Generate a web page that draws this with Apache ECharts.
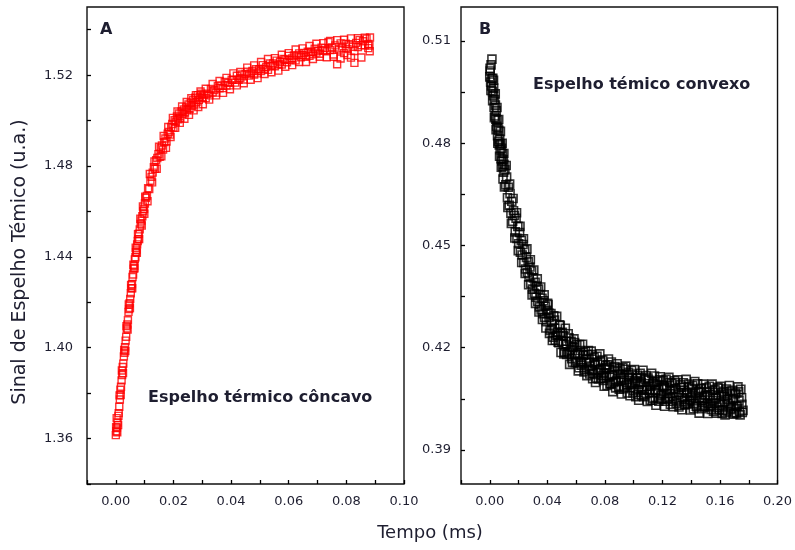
<!DOCTYPE html>
<html>
<head>
<meta charset="utf-8">
<script src="https://cdn.jsdelivr.net/npm/echarts@6/dist/echarts.min.js"></script>
<style>
  html, body { margin: 0; padding: 0; background: #ffffff; }
  #chart { width: 795px; height: 550px; }
</style>
</head>
<body>
<div id="chart"></div>
<script>
// Thermal mirror signal vs time — concave mirror (panel A), [time ms, signal a.u.]
const concavePoints = [
  [0.0000,1.3615],[0.0002,1.3632],[0.0004,1.3648],[0.0006,1.3671],[0.0008,1.3660],[0.0010,1.3712],
  [0.0012,1.3740],[0.0014,1.3772],[0.0016,1.3815],[0.0018,1.3828],[0.0020,1.3856],[0.0022,1.3880],
  [0.0024,1.3915],[0.0026,1.3930],[0.0028,1.3962],[0.0030,1.3978],[0.0032,1.4002],[0.0034,1.4031],
  [0.0036,1.4048],[0.0038,1.4085],[0.0040,1.4102],[0.0042,1.4121],[0.0044,1.4158],[0.0046,1.4170],
  [0.0048,1.4196],[0.0050,1.4215],[0.0052,1.4240],[0.0054,1.4262],[0.0056,1.4280],[0.0058,1.4311],
  [0.0060,1.4322],[0.0062,1.4348],[0.0064,1.4361],[0.0066,1.4389],[0.0068,1.4398],[0.0070,1.4420],
  [0.0072,1.4432],[0.0074,1.4455],[0.0076,1.4470],[0.0078,1.4478],[0.0080,1.4502],[0.0083,1.4521],
  [0.0086,1.4545],[0.0089,1.4560],[0.0092,1.4579],[0.0095,1.4601],[0.0098,1.4612],[0.0101,1.4635],
  [0.0104,1.4660],[0.0108,1.4668],[0.0112,1.4702],[0.0116,1.4698],[0.0120,1.4735],[0.0124,1.4752],
  [0.0128,1.4771],[0.0132,1.4795],[0.0136,1.4788],[0.0140,1.4826],[0.0144,1.4835],[0.0148,1.4852],
  [0.0152,1.4841],[0.0156,1.4878],[0.0160,1.4890],[0.0164,1.4872],[0.0168,1.4905],[0.0172,1.4921],
  [0.0176,1.4908],[0.0180,1.4942],[0.0184,1.4950],[0.0188,1.4938],[0.0192,1.4972],[0.0196,1.4985],
  [0.0200,1.4969],[0.0204,1.5002],[0.0208,1.4995],[0.0212,1.5018],[0.0216,1.5006],[0.0220,1.5031],
  [0.0224,1.5012],[0.0228,1.5040],[0.0232,1.5028],[0.0236,1.5049],[0.0240,1.5035],[0.0244,1.5058],
  [0.0248,1.5046],[0.0252,1.5071],[0.0256,1.5052],[0.0260,1.5078],[0.0264,1.5065],[0.0268,1.5090],
  [0.0272,1.5070],[0.0276,1.5101],[0.0280,1.5082],[0.0284,1.5112],[0.0288,1.5091],[0.0292,1.5105],
  [0.0296,1.5118],[0.0300,1.5099],
  [0.0306,1.5113],[0.0312,1.5098],[0.0318,1.5118],[0.0324,1.5111],[0.0330,1.5139],[0.0336,1.5124],
  [0.0342,1.5134],[0.0348,1.5123],[0.0354,1.5152],[0.0360,1.5142],[0.0366,1.5155],[0.0372,1.5143],
  [0.0378,1.5170],[0.0384,1.5154],[0.0390,1.5166],[0.0396,1.5155],[0.0402,1.5180],[0.0408,1.5179],
  [0.0414,1.5167],[0.0420,1.5197],[0.0426,1.5180],[0.0432,1.5187],[0.0438,1.5203],[0.0444,1.5181],
  [0.0450,1.5205],[0.0456,1.5215],[0.0462,1.5198],[0.0468,1.5208],[0.0474,1.5219],[0.0480,1.5203],
  [0.0486,1.5226],[0.0492,1.5208],[0.0498,1.5226],[0.0504,1.5218],[0.0510,1.5244],[0.0516,1.5227],
  [0.0522,1.5236],[0.0528,1.5223],[0.0534,1.5251],[0.0540,1.5240],[0.0546,1.5252],[0.0552,1.5239],
  [0.0558,1.5264],[0.0564,1.5247],[0.0570,1.5259],[0.0576,1.5247],[0.0582,1.5271],[0.0588,1.5269],
  [0.0594,1.5257],[0.0600,1.5285],[0.0606,1.5266],[0.0612,1.5273],[0.0618,1.5287],[0.0624,1.5265],
  [0.0630,1.5287],[0.0636,1.5296],[0.0642,1.5279],[0.0648,1.5288],[0.0654,1.5298],[0.0660,1.5281],
  [0.0666,1.5303],[0.0672,1.5285],[0.0678,1.5302],[0.0684,1.5292],[0.0690,1.5316],[0.0696,1.5299],
  [0.0702,1.5307],[0.0708,1.5294],[0.0714,1.5321],[0.0720,1.5308],[0.0726,1.5319],[0.0732,1.5305],
  [0.0738,1.5346],[0.0744,1.5311],[0.0750,1.5322],[0.0756,1.5281],[0.0762,1.5331],[0.0768,1.5248],
  [0.0774,1.5313],[0.0780,1.5340],[0.0786,1.5320],[0.0792,1.5297],[0.0798,1.5338],[0.0804,1.5315],
  [0.0810,1.5336],[0.0816,1.5277],[0.0822,1.5325],[0.0828,1.5254],[0.0834,1.5342],[0.0840,1.5324],
  [0.0846,1.5355],[0.0852,1.5332],[0.0858,1.5349],[0.0864,1.5331],[0.0870,1.5361],[0.0876,1.5337],
  [0.0880,1.5330],[0.0881,1.5305],[0.0882,1.5366]
];

// Samples taken between the ones above (same acquisition, concave mirror)
const concaveInterleaved = [
  [0.0001,1.3650],[0.0003,1.3690],[0.0005,1.3628],[0.0009,1.3700],[0.0013,1.3790],[0.0017,1.3792],
  [0.0021,1.3900],[0.0025,1.3888],[0.0029,1.3990],[0.0033,1.3985],[0.0037,1.4095],[0.0041,1.4080],
  [0.0045,1.4190],[0.0049,1.4175],[0.0053,1.4275],[0.0057,1.4262],[0.0061,1.4365],[0.0065,1.4350],
  [0.0069,1.4440],[0.0073,1.4418],[0.0077,1.4500],[0.0081,1.4478],[0.0085,1.4568],[0.0090,1.4538],
  [0.0094,1.4622],[0.0099,1.4590],
  [0.0102,1.4665],[0.0110,1.4645],[0.0118,1.4765],[0.0126,1.4728],[0.0134,1.4820],[0.0142,1.4788],
  [0.0150,1.4885],[0.0158,1.4843],[0.0166,1.4932],[0.0174,1.4880],[0.0182,1.4972],[0.0190,1.4928],
  [0.0198,1.5012],[0.0206,1.4968],[0.0214,1.5040],[0.0222,1.4990],[0.0230,1.5062],[0.0238,1.5008],
  [0.0246,1.5082],[0.0254,1.5025],[0.0262,1.5098],[0.0270,1.5045],[0.0278,1.5112],[0.0286,1.5060],
  [0.0294,1.5128],[0.0302,1.5072],
  [0.0312,1.5140],[0.0324,1.5092],[0.0336,1.5161],[0.0348,1.5111],[0.0360,1.5174],[0.0372,1.5122],
  [0.0384,1.5188],[0.0396,1.5138],[0.0408,1.5208],[0.0420,1.5155],[0.0432,1.5214],[0.0444,1.5164],
  [0.0456,1.5233],[0.0468,1.5180],[0.0480,1.5243],[0.0492,1.5187],[0.0504,1.5258],[0.0516,1.5205],
  [0.0528,1.5271],[0.0540,1.5213],[0.0552,1.5275],[0.0564,1.5220],[0.0576,1.5290],[0.0588,1.5237],
  [0.0600,1.5297],[0.0612,1.5244],[0.0624,1.5313],[0.0636,1.5258],[0.0648,1.5318],[0.0660,1.5258],
  [0.0672,1.5328],[0.0684,1.5271],[0.0696,1.5338],[0.0708,1.5281],[0.0720,1.5341],[0.0732,1.5279],
  [0.0744,1.5351],[0.0756,1.5291],[0.0768,1.5354],[0.0780,1.5273],[0.0792,1.5356],[0.0804,1.5289],
  [0.0816,1.5362],[0.0828,1.5306],[0.0840,1.5363],[0.0852,1.5278],[0.0864,1.5365],[0.0876,1.5319]
];

// Thermal mirror signal vs time — convex mirror (panel B), [time ms, signal a.u.]
const convexPoints = [
  [0.0000,0.4995],[0.0003,0.5012],[0.0006,0.4980],[0.0009,0.5030],[0.0012,0.4968],[0.0015,0.5047],
  [0.0018,0.4952],[0.0021,0.4991],[0.0024,0.4940],[0.0027,0.4962],[0.0030,0.4905],[0.0033,0.4928],
  [0.0036,0.4880],[0.0039,0.4912],[0.0042,0.4871],[0.0045,0.4895],[0.0048,0.4850],[0.0051,0.4868],
  [0.0054,0.4822],[0.0057,0.4845],[0.0060,0.4806],[0.0063,0.4838],[0.0066,0.4795],[0.0069,0.4812],
  [0.0072,0.4781],[0.0075,0.4798],[0.0078,0.4755],[0.0081,0.4785],[0.0084,0.4748],[0.0087,0.4770],
  [0.0090,0.4732],[0.0093,0.4752],[0.0096,0.4715],[0.0099,0.4738],
  [0.0105,0.4722],[0.0111,0.4678],[0.0117,0.4701],[0.0123,0.4640],[0.0129,0.4671],[0.0135,0.4618],
  [0.0141,0.4652],[0.0147,0.4595],[0.0153,0.4630],[0.0159,0.4571],[0.0165,0.4602],[0.0171,0.4588],
  [0.0177,0.4540],[0.0183,0.4580],[0.0189,0.4521],[0.0195,0.4556],[0.0201,0.4505],[0.0207,0.4538],
  [0.0213,0.4480],[0.0219,0.4515],[0.0225,0.4472],[0.0231,0.4503],[0.0237,0.4450],[0.0243,0.4488],
  [0.0249,0.4431],[0.0255,0.4465],[0.0261,0.4420],[0.0267,0.4452],[0.0273,0.4408],[0.0279,0.4437],
  [0.0285,0.4389],[0.0291,0.4425],[0.0297,0.4372],[0.0303,0.4405],[0.0309,0.4360],[0.0315,0.4392],
  [0.0321,0.4348],[0.0327,0.4381],[0.0333,0.4336],[0.0339,0.4372],[0.0345,0.4320],[0.0351,0.4356],
  [0.0357,0.4311],[0.0363,0.4345],[0.0369,0.4300],[0.0375,0.4338],[0.0381,0.4289],[0.0387,0.4322],
  [0.0393,0.4276],[0.0399,0.4310],
  [0.041,0.4302],[0.042,0.4251],[0.043,0.4276],[0.044,0.4231],[0.045,0.4281],[0.046,0.4237],
  [0.047,0.4246],[0.048,0.4215],[0.049,0.4265],[0.050,0.4219],[0.051,0.4235],[0.052,0.4187],
  [0.053,0.4219],[0.054,0.4188],[0.055,0.4229],[0.056,0.4193],[0.057,0.4168],[0.058,0.4200],
  [0.059,0.4215],[0.060,0.4161],[0.061,0.4181],[0.062,0.4141],[0.063,0.4192],[0.064,0.4159],
  [0.065,0.4179],[0.066,0.4135],[0.067,0.4165],[0.068,0.4181],[0.069,0.4138],[0.070,0.4146],
  [0.071,0.4180],[0.072,0.4125],[0.073,0.4154],[0.074,0.4111],[0.075,0.4157],[0.076,0.4136],
  [0.077,0.4162],[0.078,0.4118],[0.079,0.4104],[0.080,0.4136],
  [0.081,0.4118],[0.082,0.4150],[0.083,0.4136],[0.084,0.4094],[0.085,0.4120],[0.086,0.4099],
  [0.087,0.4145],[0.088,0.4104],[0.089,0.4133],[0.090,0.4078],[0.091,0.4112],[0.092,0.4122],
  [0.093,0.4080],[0.094,0.4137],[0.095,0.4098],[0.096,0.4120],[0.097,0.4093],[0.098,0.4084],
  [0.099,0.4123],[0.100,0.4074],[0.101,0.4103],[0.102,0.4110],[0.103,0.4062],[0.104,0.4093],
  [0.105,0.4113],[0.106,0.4076],[0.107,0.4056],[0.108,0.4107],[0.109,0.4077],[0.110,0.4111],
  [0.111,0.4067],[0.112,0.4087],[0.113,0.4046],[0.114,0.4099],[0.115,0.4075],[0.116,0.4089],
  [0.117,0.4050],[0.118,0.4106],[0.119,0.4063],[0.120,0.4089],
  [0.121,0.4087],[0.122,0.4043],[0.123,0.4079],[0.124,0.4053],[0.125,0.4098],[0.126,0.4065],
  [0.127,0.4043],[0.128,0.4078],[0.129,0.4097],[0.130,0.4046],[0.131,0.4068],[0.132,0.4031],
  [0.133,0.4084],[0.134,0.4053],[0.135,0.4076],[0.136,0.4034],[0.137,0.4066],[0.138,0.4085],
  [0.139,0.4044],[0.140,0.4054],[0.141,0.4089],[0.142,0.4036],[0.143,0.4066],[0.144,0.4026],
  [0.145,0.4073],[0.146,0.4053],[0.147,0.4081],[0.148,0.4039],[0.149,0.4027],[0.150,0.4060],
  [0.151,0.4070],[0.152,0.4026],[0.153,0.4057],[0.154,0.4019],[0.155,0.4075],[0.156,0.4037],
  [0.157,0.4051],[0.158,0.4025],[0.159,0.4081],[0.160,0.4040],
  [0.161,0.4068],[0.162,0.4016],[0.163,0.4056],[0.164,0.4009],[0.165,0.4061],[0.166,0.4036],
  [0.167,0.4071],[0.168,0.4023],[0.169,0.4047],[0.170,0.4009],[0.171,0.4067],[0.172,0.4028],
  [0.173,0.4071],[0.174,0.4003],[0.175,0.4053],[0.176,0.4016]
];

// Samples taken between the ones above (same acquisition, convex mirror)
const convexInterleaved = [
  [0.0002,0.5020],[0.0008,0.4955],[0.0014,0.4990],[0.0020,0.4925],[0.0026,0.4985],[0.0032,0.4875],
  [0.0038,0.4945],[0.0044,0.4840],[0.0050,0.4905],[0.0056,0.4800],[0.0062,0.4870],[0.0068,0.4762],
  [0.0074,0.4835],[0.0080,0.4730],[0.0086,0.4800],[0.0092,0.4695],[0.0098,0.4770],
  [0.0102,0.4672],[0.0114,0.4735],[0.0126,0.4612],[0.0138,0.4680],[0.0150,0.4565],[0.0162,0.4638],
  [0.0174,0.4522],[0.0186,0.4596],[0.0198,0.4485],[0.0210,0.4556],[0.0222,0.4450],[0.0234,0.4520],
  [0.0246,0.4418],[0.0258,0.4490],[0.0270,0.4385],[0.0282,0.4458],[0.0294,0.4355],[0.0306,0.4428],
  [0.0318,0.4330],[0.0330,0.4402],[0.0342,0.4305],[0.0354,0.4378],[0.0366,0.4283],[0.0378,0.4355],
  [0.0390,0.4258],[0.0402,0.4330],
  [0.0405,0.4327],[0.0415,0.4242],[0.0425,0.4300],[0.0435,0.4221],[0.0445,0.4294],[0.0455,0.4222],
  [0.0465,0.4292],[0.0475,0.4216],[0.0485,0.4267],[0.0495,0.4186],[0.0505,0.4245],[0.0515,0.4182],
  [0.0525,0.4257],[0.0535,0.4180],[0.0545,0.4241],[0.0555,0.4151],[0.0565,0.4219],[0.0575,0.4157],
  [0.0585,0.4226],[0.0595,0.4156],[0.0605,0.4209],[0.0615,0.4132],[0.0625,0.4209],[0.0635,0.4149],
  [0.0645,0.4210],[0.0655,0.4129],[0.0665,0.4189],[0.0675,0.4118],[0.0685,0.4192],[0.0695,0.4123],
  [0.0705,0.4190],[0.0715,0.4109],[0.0725,0.4172],[0.0735,0.4098],[0.0745,0.4175],[0.0755,0.4108],
  [0.0765,0.4182],[0.0775,0.4110],[0.0785,0.4164],[0.0795,0.4087],[0.0805,0.4149],[0.0815,0.4089],
  [0.0825,0.4167],[0.0835,0.4094],[0.0845,0.4158],[0.0855,0.4071],[0.0865,0.4141],[0.0875,0.4082],
  [0.0885,0.4153],[0.0895,0.4085],[0.0905,0.4139],[0.0915,0.4064],[0.0925,0.4142],[0.0935,0.4084],
  [0.0945,0.4146],[0.0955,0.4067],[0.0965,0.4128],[0.0975,0.4059],[0.0985,0.4134],[0.0995,0.4067],
  [0.1005,0.4136],[0.1015,0.4056],[0.1025,0.4119],[0.1035,0.4046],[0.1045,0.4125],[0.1055,0.4059],
  [0.1065,0.4134],[0.1075,0.4062],[0.1085,0.4118],[0.1095,0.4042],[0.1105,0.4105],[0.1115,0.4046],
  [0.1125,0.4125],[0.1135,0.4052],[0.1145,0.4117],[0.1155,0.4031],[0.1165,0.4102],[0.1175,0.4043],
  [0.1185,0.4115],[0.1195,0.4048],[0.1205,0.4103],[0.1215,0.4028],[0.1225,0.4107],[0.1235,0.4049],
  [0.1245,0.4113],[0.1255,0.4034],[0.1265,0.4096],[0.1275,0.4027],[0.1285,0.4103],[0.1295,0.4037],
  [0.1305,0.4106],[0.1315,0.4026],[0.1325,0.4091],[0.1335,0.4018],[0.1345,0.4097],[0.1355,0.4032],
  [0.1365,0.4107],[0.1375,0.4036],[0.1385,0.4093],[0.1395,0.4017],[0.1405,0.4080],[0.1415,0.4021],
  [0.1425,0.4101],[0.1435,0.4028],[0.1445,0.4094],[0.1455,0.4008],[0.1465,0.4079],[0.1475,0.4021],
  [0.1485,0.4093],[0.1495,0.4027],[0.1505,0.4082],[0.1515,0.4007],[0.1525,0.4087],[0.1535,0.4029],
  [0.1545,0.4093],[0.1555,0.4014],[0.1565,0.4077],[0.1575,0.4008],[0.1585,0.4084],[0.1595,0.4018],
  [0.1605,0.4087],[0.1615,0.4007],[0.1625,0.4072],[0.1635,0.4003],[0.1645,0.4079],[0.1655,0.4014],
  [0.1665,0.4089],[0.1675,0.4019],[0.1685,0.4075],[0.1695,0.4005],[0.1705,0.4064],[0.1715,0.4008],
  [0.1725,0.4085],[0.1735,0.4013],[0.1745,0.4078],[0.1755,0.4010]
];

// A further sweep of convex-mirror samples lying near the middle of the band
const convexCentral = [
  [0.0412,0.4289],[0.0432,0.4255],[0.0452,0.4257],[0.0472,0.4236],[0.0492,0.4244],[0.0512,0.4210],
  [0.0532,0.4210],[0.0552,0.4184],[0.0572,0.4202],[0.0592,0.4179],[0.0612,0.4182],[0.0632,0.4160],
  [0.0652,0.4177],[0.0672,0.4156],[0.0692,0.4157],[0.0712,0.4135],[0.0732,0.4151],[0.0752,0.4127],
  [0.0772,0.4137],[0.0792,0.4124],[0.0812,0.4140],[0.0832,0.4114],[0.0852,0.4120],[0.0872,0.4100],
  [0.0892,0.4123],[0.0912,0.4104],[0.0932,0.4111],[0.0952,0.4092],[0.0972,0.4112],[0.0992,0.4094],
  [0.1012,0.4099],[0.1032,0.4078],[0.1052,0.4097],[0.1072,0.4075],[0.1092,0.4087],[0.1112,0.4076],
  [0.1132,0.4094],[0.1152,0.4069],[0.1172,0.4077],[0.1192,0.4059],[0.1212,0.4083],[0.1232,0.4066],
  [0.1252,0.4075],[0.1272,0.4057],[0.1292,0.4079],[0.1312,0.4062],[0.1332,0.4068],[0.1352,0.4049],
  [0.1372,0.4068],[0.1392,0.4047],[0.1412,0.4060],[0.1432,0.4050],[0.1452,0.4069],[0.1472,0.4045],
  [0.1492,0.4054],[0.1512,0.4036],[0.1532,0.4061],[0.1552,0.4045],[0.1572,0.4054],[0.1592,0.4037],
  [0.1612,0.4058],[0.1632,0.4042],[0.1652,0.4049],[0.1672,0.4030],[0.1692,0.4050],[0.1712,0.4029],
  [0.1732,0.4044],[0.1752,0.4034]
];

// Tick positions (major ticks carry labels, minor ticks are bare)
const concaveTimeTicks   = [0, 0.02, 0.04, 0.06, 0.08, 0.10];
const concaveTimeMinor   = [-0.01, 0.01, 0.03, 0.05, 0.07, 0.09];
const concaveSignalTicks = [1.36, 1.40, 1.44, 1.48, 1.52];
const concaveSignalMinor = [1.34, 1.38, 1.42, 1.46, 1.50, 1.54];
const convexTimeTicks    = [0, 0.04, 0.08, 0.12, 0.16, 0.20];
const convexTimeMinor    = [-0.02, 0.02, 0.06, 0.10, 0.14, 0.18];
const convexSignalTicks  = [0.39, 0.42, 0.45, 0.48, 0.51];
const convexSignalMinor  = [0.405, 0.435, 0.465, 0.495];

const FONT = '"DejaVu Sans", "Liberation Sans", Arial, sans-serif';
const INK = '#1e1e30';

// One value axis per side; ticks sit inside the frame at both major and minor positions
function valueAxis(gridIndex, position, min, max, major, minor, labelMargin) {
  return {
    type: 'value', gridIndex, position, min, max, scale: true,
    axisLine: { show: false, onZero: false },
    splitLine: { show: false },
    axisTick: { show: true, inside: true, length: 4,
                customValues: major.concat(minor).sort((a, b) => a - b),
                lineStyle: { color: '#000', width: 1.3 } },
    axisLabel: { show: true, customValues: major, margin: labelMargin,
                 formatter: v => v.toFixed(2), color: INK, fontSize: 13, fontFamily: FONT }
  };
}

const chart = echarts.init(document.getElementById('chart'), null, { renderer: 'canvas' });

const gridBox = { show: true, borderColor: '#111', borderWidth: 1.4, backgroundColor: 'transparent', containLabel: false };

const markerA = { color: 'transparent', borderColor: '#ff0000', borderWidth: 1.4 };
const markerB = { color: 'transparent', borderColor: '#000000', borderWidth: 1.6 };

chart.setOption({
  animation: false,
  backgroundColor: '#ffffff',
  grid: [
    Object.assign({ left: 87, right: 391, top: 7, bottom: 66 }, gridBox),
    Object.assign({ left: 461, right: 17, top: 7, bottom: 66 }, gridBox)
  ],
  xAxis: [
    valueAxis(0, 'bottom', -0.01, 0.10, concaveTimeTicks, concaveTimeMinor, 11),
    valueAxis(1, 'bottom', -0.02, 0.20, convexTimeTicks, convexTimeMinor, 11)
  ],
  yAxis: [
    valueAxis(0, 'left', 1.34, 1.55, concaveSignalTicks, concaveSignalMinor, 14),
    valueAxis(1, 'left', 0.38, 0.52, convexSignalTicks, convexSignalMinor, 10)
  ],
  series: [
    {
      type: 'scatter', xAxisIndex: 0, yAxisIndex: 0,
      data: concavePoints.concat(concaveInterleaved),
      symbol: 'rect', symbolSize: 7,
      itemStyle: markerA, silent: true
    },
    {
      type: 'scatter', xAxisIndex: 1, yAxisIndex: 1,
      data: convexPoints.concat(convexInterleaved, convexCentral),
      symbol: 'rect', symbolSize: 8,
      itemStyle: markerB, silent: true
    }
  ],
  graphic: [
    { type: 'text', left: 100, top: 22,
      style: { text: 'A', font: 'bold 16px ' + FONT, fill: INK } },
    { type: 'text', left: 479, top: 22,
      style: { text: 'B', font: 'bold 16px ' + FONT, fill: INK } },
    { type: 'text', left: 148, top: 390,
      style: { text: 'Espelho térmico côncavo', font: 'bold 16px ' + FONT, fill: INK } },
    { type: 'text', left: 533, top: 77,
      style: { text: 'Espelho témico convexo', font: 'bold 16px ' + FONT, fill: INK } },
    { type: 'text', x: 20, y: 262, rotation: Math.PI / 2,
      style: { text: 'Sinal de Espelho Témico (u.a.)', font: '19px ' + FONT, fill: INK,
               align: 'center', verticalAlign: 'middle',
               textAlign: 'center', textVerticalAlign: 'middle' } },
    { type: 'text', x: 430, y: 533,
      style: { text: 'Tempo (ms)', font: '18px ' + FONT, fill: INK,
               align: 'center', verticalAlign: 'middle',
               textAlign: 'center', textVerticalAlign: 'middle' } }
  ]
});
</script>
</body>
</html>
